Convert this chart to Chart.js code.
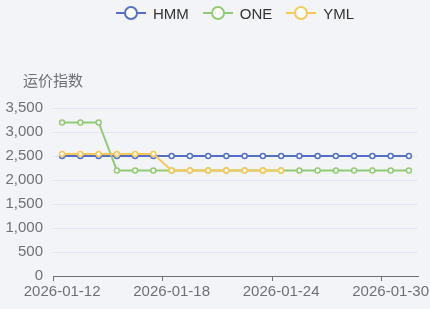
<!DOCTYPE html>
<html>
<head>
<meta charset="utf-8">
<script src="https://cdn.jsdelivr.net/npm/chart.js@4.4.1/dist/chart.umd.min.js"></script>
<style>
html, body { margin: 0; padding: 0; background: #f3f4f7; }
#wrap { position: relative; width: 430px; height: 309px; }
#legend { position: absolute; top: 3px; left: 116px; display: flex; align-items: center;
  font: 15px "Liberation Sans", Arial, sans-serif; color: #333; }
.item { display: flex; align-items: center; margin-right: 14px; }
.item svg { margin-right: 7px; }
</style>
</head>
<body>
<div id="wrap">
  <div id="legend"></div>
  <canvas id="chart" width="430" height="309"></canvas>
</div>
<script>
// dữ liệu
const dates = [];
for (let d = 12; d <= 31; d++) dates.push('2026-01-' + d);
const hmm = [2500, 2500, 2500, 2500, 2500, 2500, 2500, 2500, 2500, 2500, 2500, 2500, 2500, 2500, 2500, 2500, 2500, 2500, 2500, 2500];
const one = [3200, 3200, 3200, 2200, 2200, 2200, 2200, 2200, 2200, 2200, 2200, 2200, 2200, 2200, 2200, 2200, 2200, 2200, 2200, 2200];
const yml = [2540, 2540, 2540, 2540, 2540, 2540, 2200, 2200, 2200, 2200, 2200, 2200, 2200, null, null, null, null, null, null, null];
const names = ['HMM', 'ONE', 'YML'];
const colors = ['#5470c6', '#91cc75', '#fac858'];
const yTicks = [0, 500, 1000, 1500, 2000, 2500, 3000, 3500];

// legend HTML
const legend = document.getElementById('legend');
names.forEach((n, i) => {
    legend.innerHTML += '<div class="item"><svg width="30" height="20">' +
        '<line x1="0" y1="10" x2="30" y2="10" stroke="' + colors[i] + '" stroke-width="2"/>' +
        '<circle cx="15" cy="10" r="6" fill="#fff" stroke="' + colors[i] + '" stroke-width="2"/>' +
        '</svg>' + n + '</div>';
});

const axisName = {
    id: 'axisName',
    afterDraw(chart) {
        const c = chart.ctx;
        c.save();
        c.font = '15px "Noto Sans CJK SC", sans-serif';
        c.fillStyle = '#6e7079';
        c.textAlign = 'center';
        c.textBaseline = 'middle';
        c.fillText('运价指数', chart.chartArea.left, 80);
        c.restore();
    }
};

const ds = [hmm, one, yml].map((v, i) => ({
    label: names[i],
    data: v,
    borderColor: colors[i],
    backgroundColor: '#ffffff',
    borderWidth: 2,
    pointRadius: 2.5,
    pointBorderWidth: 1.5,
    pointBackgroundColor: '#ffffff',
    tension: 0,
    order: 3 - i
}));

Chart.defaults.font.family = '"Liberation Sans", Arial, sans-serif';
Chart.defaults.font.size = 15;
Chart.defaults.color = '#6e7079';

new Chart(document.getElementById('chart'), {
    type: 'line',
    data: {labels: dates, datasets: ds},
    options: {
        responsive: false,
        animation: false,
        layout: {padding: {top: 108, right: 12, bottom: 6, left: 0}},
        plugins: {legend: {display: false}, tooltip: {enabled: false}},
        scales: {
            x: {
                offset: true,
                grid: {
                    offset: true,
                    drawOnChartArea: false,
                    tickLength: 5,
                    color: (ctx) => (ctx.index % 6 === 0 || ctx.index === dates.length) ? '#6e7079' : 'rgba(0,0,0,0)'
                },
                border: {color: '#6e7079', width: 1},
                ticks: {
                    autoSkip: false,
                    maxRotation: 0,
                    padding: 2,
                    callback: (v, i) => i % 6 === 0 ? dates[i] : ''
                }
            },
            y: {
                min: 0,
                max: 3500,
                afterBuildTicks: (s) => { s.ticks = yTicks.map(v => ({value: v})); },
                afterFit: (s) => { s.width = 53; },
                border: {display: false},
                grid: {color: '#e0e6f1', drawTicks: false},
                ticks: {
                    padding: 10,
                    callback: (v) => v.toLocaleString('en-US')
                }
            }
        }
    },
    plugins: [axisName]
});
</script>
</body>
</html>
